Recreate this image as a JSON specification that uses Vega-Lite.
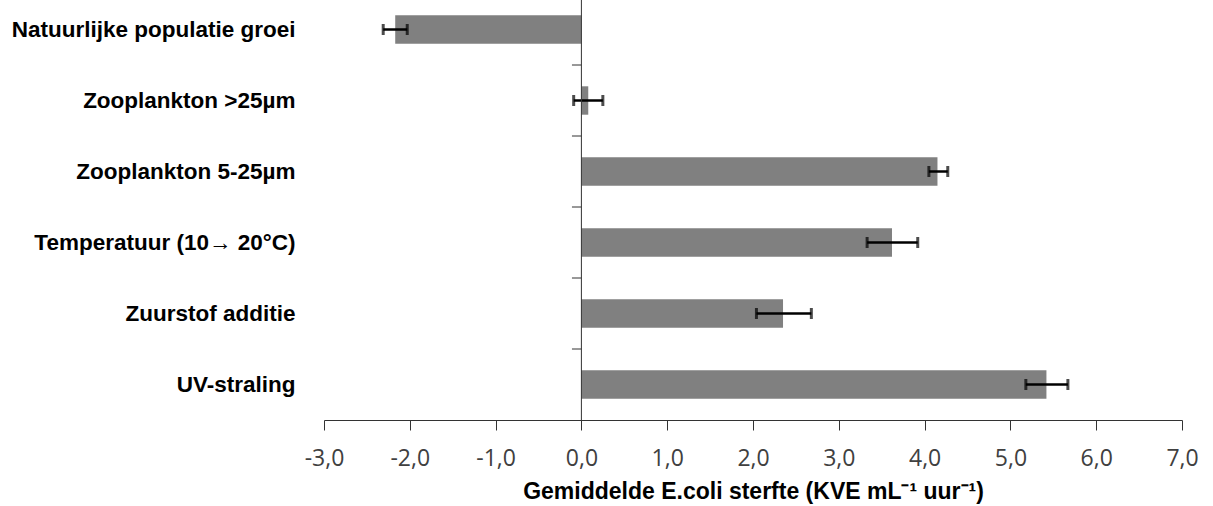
{
  "$schema": "https://vega.github.io/schema/vega-lite/v6.json",
  "width": 858,
  "height": 420,
  "autosize": {"type": "none"},
  "padding": {"left": 324, "top": 0, "right": 31, "bottom": 86},
  "background": "white",
  "config": {"view": {"stroke": null}},
  "data": {
    "values": [
      {"cat": "Natuurlijke populatie groei", "value": -2.17, "lo": -2.31, "hi": -2.03},
      {"cat": "Zooplankton >25µm", "value": 0.08, "lo": -0.09, "hi": 0.25},
      {"cat": "Zooplankton 5-25µm", "value": 4.15, "lo": 4.05, "hi": 4.27},
      {"cat": "Temperatuur (10→ 20°C)", "value": 3.62, "lo": 3.33, "hi": 3.92},
      {"cat": "Zuurstof additie", "value": 2.35, "lo": 2.04, "hi": 2.68},
      {"cat": "UV-straling", "value": 5.42, "lo": 5.18, "hi": 5.67}
    ]
  },
  "encoding": {
    "y": {
      "field": "cat",
      "type": "nominal",
      "sort": null,
      "scale": {"range": [-6, 420], "paddingInner": 0, "paddingOuter": 0},
      "axis": {
        "title": null,
        "domain": false,
        "ticks": false,
        "labelPadding": 29,
        "labelFont": "Liberation Sans",
        "labelFontWeight": "bold",
        "labelFontSize": 22.5,
        "labelColor": "#000000",
        "labelLimit": 400
      }
    }
  },
  "layer": [
    {
      "mark": {"type": "bar", "color": "#808080", "height": {"band": 0.4}},
      "encoding": {
        "x": {
          "field": "value",
          "type": "quantitative",
          "scale": {"domain": [-3, 7], "nice": false, "zero": false},
          "axis": {
            "values": [-3, -2, -1, 0, 1, 2, 3, 4, 5, 6, 7],
            "grid": false,
            "domainColor": "#333333",
            "tickColor": "#333333",
            "tickSize": 10,
            "labelExpr": "replace(replace(format(datum.value, '.1f'), '.', ','), '\u2212', '-')",
            "labelFont": "Open Sans",
            "labelFontSize": 23,
            "labelColor": "#404040",
            "labelPadding": 17,
            "labelFlush": false,
            "title": "Gemiddelde E.coli sterfte (KVE mL⁻¹ uur⁻¹)",
            "titleFont": "Liberation Sans",
            "titleFontWeight": "bold",
            "titleFontSize": 23,
            "titleColor": "#000000",
            "titlePadding": 10
          }
        }
      }
    },
    {
      "mark": {"type": "rule", "color": "#000000", "strokeWidth": 2.5},
      "encoding": {
        "x": {"field": "lo", "type": "quantitative"},
        "x2": {"field": "hi"}
      }
    },
    {
      "mark": {"type": "tick", "color": "#000000", "size": 11, "thickness": 3, "orient": "vertical"},
      "encoding": {"x": {"field": "lo", "type": "quantitative"}}
    },
    {
      "mark": {"type": "tick", "color": "#000000", "size": 11, "thickness": 3, "orient": "vertical"},
      "encoding": {"x": {"field": "hi", "type": "quantitative"}}
    },
    {
      "mark": {"type": "rule", "color": "#333333", "strokeWidth": 1},
      "encoding": {
        "y": {"field": "cat", "type": "nominal", "sort": null, "bandPosition": 0},
        "x": {"datum": -0.11, "type": "quantitative"},
        "x2": {"datum": 0}
      }
    },
    {
      "data": {"values": [{}]},
      "mark": {"type": "rule", "color": "#333333", "strokeWidth": 1},
      "encoding": {
        "x": {"datum": 0, "type": "quantitative"},
        "y": null
      }
    }
  ]
}
